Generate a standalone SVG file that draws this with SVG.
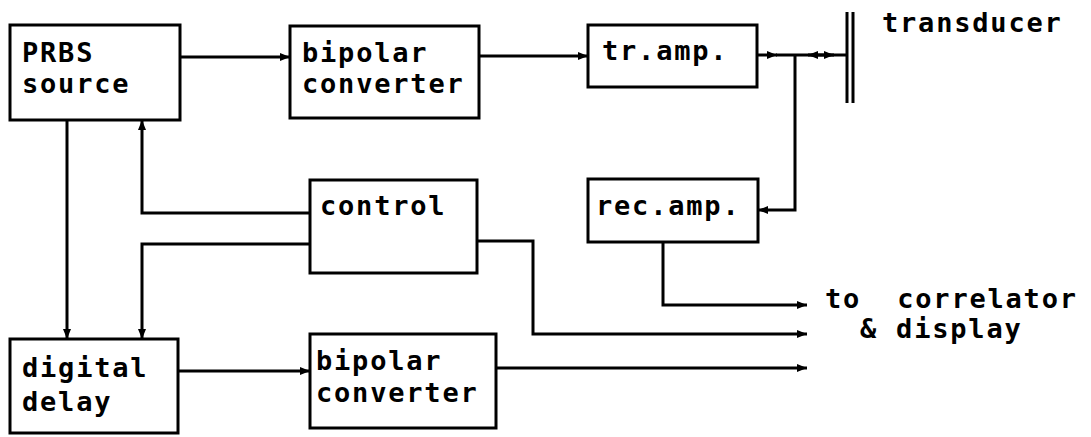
<svg xmlns="http://www.w3.org/2000/svg" width="1091" height="437" viewBox="0 0 1091 437">
  <style>
    .box { fill: #fff; stroke: #000; stroke-width: 3; }
    .lbl { font-family: "DejaVu Sans Mono", "Liberation Mono", monospace; font-weight: bold; font-size: 27px; letter-spacing: 1.8px; fill: #000; white-space: pre; }
    .wire { fill: none; stroke: #000; stroke-width: 3; stroke-linejoin: miter; }
    .arr { marker-end: url(#head); }
  </style>
  <defs>
    <marker id="head" viewBox="0 0 10 8" refX="10" refY="4" markerWidth="11" markerHeight="8" markerUnits="userSpaceOnUse" orient="auto">
      <path d="M0,0 L10,4 L0,8 z" fill="#000"/>
    </marker>
  </defs>
  <rect width="1091" height="437" fill="#fff"/>

  <!-- signal paths -->
  <g id="connectors">
    <!-- PRBS source to bipolar converter -->
    <path class="wire arr" d="M180 57 H290"/>
    <!-- bipolar converter to transmit amplifier -->
    <path class="wire arr" d="M479 56 H588"/>
    <!-- transmit amplifier to transducer, with two-way section -->
    <path class="wire arr" d="M757 55 H777"/>
    <path class="wire" d="M776 55 H847"/>
    <path class="wire arr" d="M820 55 H808"/>
    <path class="wire arr" d="M820 55 H834"/>
    <!-- echo branch to receive amplifier -->
    <path class="wire arr" d="M795 55 V210 H758"/>
    <!-- receive amplifier out -->
    <path class="wire arr" d="M663 242 V305 H807"/>
    <!-- control feedback to PRBS source -->
    <path class="wire arr" d="M310 213 H142 V120"/>
    <!-- control to digital delay -->
    <path class="wire arr" d="M310 244 H142 V339"/>
    <!-- PRBS source to digital delay -->
    <path class="wire arr" d="M67 120 V339"/>
    <!-- control out -->
    <path class="wire arr" d="M477 241 H533 V334 H807"/>
    <!-- digital delay to bipolar converter -->
    <path class="wire arr" d="M178 371 H310"/>
    <!-- bipolar converter out -->
    <path class="wire arr" d="M496 368 H807"/>
  </g>

  <g id="prbs-source">
    <rect class="box" x="10" y="25" width="170" height="95"/>
    <text class="lbl" x="22" y="62">PRBS</text>
    <text class="lbl" x="22" y="93">source</text>
  </g>

  <g id="bipolar-converter-1">
    <rect class="box" x="290" y="26" width="189" height="92"/>
    <text class="lbl" x="302" y="62">bipolar</text>
    <text class="lbl" x="302" y="93">converter</text>
  </g>

  <g id="tr-amp">
    <rect class="box" x="588" y="25" width="169" height="62"/>
    <text class="lbl" x="602" y="60">tr.amp.</text>
  </g>

  <g id="transducer">
    <line x1="847" y1="12" x2="847" y2="103" stroke="#000" stroke-width="3"/>
    <line x1="853" y1="12" x2="853" y2="103" stroke="#000" stroke-width="3"/>
    <text class="lbl" x="882" y="32">transducer</text>
  </g>

  <g id="rec-amp">
    <rect class="box" x="588" y="179" width="170" height="63"/>
    <text class="lbl" x="596" y="215">rec.amp.</text>
  </g>

  <g id="control">
    <rect class="box" x="310" y="180" width="167" height="93"/>
    <text class="lbl" x="320" y="215">control</text>
  </g>

  <g id="digital-delay">
    <rect class="box" x="10" y="339" width="168" height="94"/>
    <text class="lbl" x="22" y="377">digital</text>
    <text class="lbl" x="22" y="411">delay</text>
  </g>

  <g id="bipolar-converter-2">
    <rect class="box" x="310" y="334" width="186" height="94"/>
    <text class="lbl" x="316" y="370">bipolar</text>
    <text class="lbl" x="316" y="402">converter</text>
  </g>

  <g id="output-label">
    <text class="lbl" x="825" y="308" xml:space="preserve">to  correlator</text>
    <text class="lbl" x="860" y="338">&amp; display</text>
  </g>
</svg>
